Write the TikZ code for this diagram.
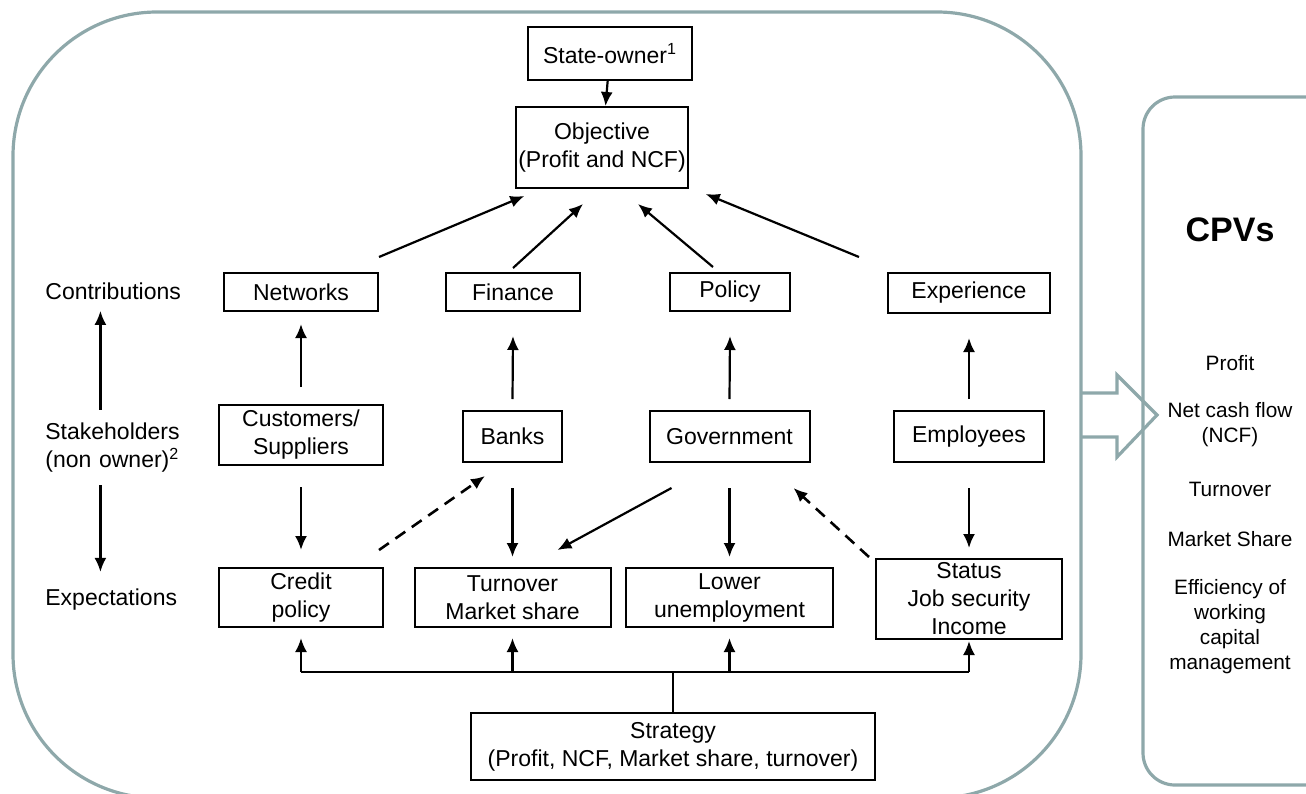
\documentclass[tikz,border=0pt]{standalone}
\usepackage{fontspec}
\setmainfont{Liberation Sans}
\usepackage{tikz}
\usetikzlibrary{arrows.meta}
\definecolor{ink}{HTML}{000000}
\definecolor{rim}{HTML}{8EA8AA}
\tikzset{
  box/.style={draw=ink, line width=1pt, inner sep=1pt, align=center, font=\fontsize{11.5}{14}\selectfont},
  lab/.style={inner sep=0pt, text width=70pt, align=left, anchor=west, font=\fontsize{11.5}{14}\selectfont},
  cpv/.style={inner sep=0pt, align=center, font=\fontsize{10.4}{12.5}\selectfont},
  conn/.style={draw=ink, line width=1.1pt},
  arr/.style={conn, -{Latex[length=7pt,width=6pt]}},
  darr/.style={arr, line width=1.3pt, dash pattern=on 6pt off 4pt},
  panel/.style={draw=rim, line width=1.6pt},
}

\begin{document}
\begin{tikzpicture}[x=0.5pt,y=-0.5pt]
  \useasboundingbox (0,0) rectangle (1306,793);
  % frames
  \draw[panel, rounded corners=72pt] (13,12) rectangle (1081,798);
  \draw[panel, rounded corners=16pt] (1143,97) rectangle (1340,785);
  \draw[panel, line join=miter] (1081,393) -- (1117,393) -- (1117,375) -- (1157,415)
    -- (1117,457) -- (1117,437) -- (1081,437);

  % top
  \node[box, minimum width=82pt, minimum height=26.5pt] (owner) at (610,53.5) {State-owner\textsuperscript{1}};
  \node[box, minimum width=84pt, minimum height=40.5pt] (objective) at (602,147.5) {Objective\\(Profit and NCF)};

  % contributions
  \node[box, minimum width=77pt, minimum height=19pt] (networks) at (301,292) {Networks};
  \node[box, minimum width=67pt, minimum height=19pt] (finance) at (513,292) {Finance};
  \node[box, minimum width=60pt, minimum height=19pt] (policy) at (730,292) {Policy};
  \node[box, minimum width=81pt, minimum height=20pt] (experience) at (969,293) {Experience};

  % stakeholders
  \node[box, minimum width=82pt, minimum height=30pt] (custsupp) at (301,435) {Customers/\\Suppliers};
  \node[box, minimum width=49.5pt, minimum height=25.5pt] (banks) at (512.5,436.5) {Banks};
  \node[box, minimum width=80pt, minimum height=25.5pt] (government) at (729.5,436.5) {Government};
  \node[box, minimum width=75pt, minimum height=25.5pt] (employees) at (969,436.5) {Employees};

  % expectations
  \node[box, minimum width=82pt, minimum height=29.5pt] (credit) at (301,597.5) {Credit\\policy};
  \node[box, minimum width=98pt, minimum height=29.5pt] (turnover) at (512.5,597.5) {Turnover\\Market share};
  \node[box, minimum width=103.5pt, minimum height=29.5pt] (unemploy) at (729.5,597.5) {Lower\\unemployment};
  \node[box, minimum width=93pt, minimum height=40pt] (status) at (969,599) {Status\\Job security\\Income};

  \node[box, minimum width=202pt, minimum height=33.5pt] (strategy) at (673,746.5) {Strategy\\(Profit, NCF, Market share, turnover)};

  % left labels
  \node[lab] (contrib) at (45,291) {Contributions};
  \node[lab] (stake) at (45,448) {Stakeholders\\(non owner)\textsuperscript{2}};
  \node[lab] (expect) at (45,600) {Expectations};
  \draw[arr] ([shift={(-7.5pt,6.5pt)}]stake.north) -- ([shift={(-7.5pt,-5.5pt)}]contrib.south);
  \draw[arr] ([shift={(-7.5pt,-6pt)}]stake.south) -- ([shift={(-7.5pt,8.5pt)}]expect.north);

  % CPVs
  \node[cpv, font=\bfseries\fontsize{17}{20}\selectfont] (cpvs) at (1230,230) {CPVs};
  \node[cpv] (cpvprofit) at (1230,363) {Profit};
  \node[cpv] (cpvncf) at (1230,425) {Net cash flow\\(NCF)};
  \node[cpv] (cpvturn) at (1230,489) {Turnover};
  \node[cpv] (cpvshare) at (1230,539) {Market Share};
  \node[cpv] (cpvwcm) at (1230,627) {Efficiency of\\working\\capital\\management};

  % arrows to objective
  \draw[arr] (owner) -- (objective);
  \draw[arr] ([yshift=7.5pt]networks.north east) -- ([shift={(4.5pt,-3.5pt)}]objective.south west);
  \draw[arr] ([yshift=2pt]finance.north) -- ([shift={(-9.5pt,-7.5pt)}]objective.south);
  \draw[arr] ([shift={(-8.5pt,2.5pt)}]policy.north) -- ([shift={(18pt,-7.5pt)}]objective.south);
  \draw[arr] ([shift={(-14pt,7.5pt)}]experience.north west) -- ([shift={(8.5pt,-2.5pt)}]objective.south east);

  % stakeholders to contributions and expectations
  \draw[arr] ([yshift=8.5pt]custsupp.north) -- ([yshift=-6pt]networks.south);
  \draw[arr] ([yshift=-10.5pt]custsupp.south) -- ([yshift=8.5pt]credit.north);
  \foreach \s/\c/\e in {banks/finance/turnover,government/policy/unemploy,employees/experience/status}{
    \draw[arr] ([yshift=5.5pt]\s.north) -- ([yshift=-12pt]\c.south);
    \draw[arr] ([yshift=-12.5pt]\s.south) -- ([yshift=5pt]\e.north);
  }
  \draw[arr] ([shift={(11.5pt,-12.5pt)}]government.south west) -- ([shift={(-27pt,8.5pt)}]turnover.north east);
  \draw[darr] ([shift={(-2.5pt,8.5pt)}]credit.north east) -- ([shift={(11.5pt,-6.5pt)}]banks.south west);
  \draw[darr] ([shift={(-3pt,0.5pt)}]status.north west) -- ([shift={(-8.5pt,-12.5pt)}]government.south east);

  % strategy
  \coordinate (bus) at ([yshift=20pt]strategy.north);
  \draw[conn] (strategy.north) -- (bus);
  \draw[conn] (credit.south |- bus) -- (status.south |- bus);
  \foreach \n/\g in {credit/5pt,turnover/5pt,unemploy/5pt,status/0.5pt}
    \draw[arr, shorten >=\g] (\n.south |- bus) -- (\n.south);
\end{tikzpicture}
\end{document}
